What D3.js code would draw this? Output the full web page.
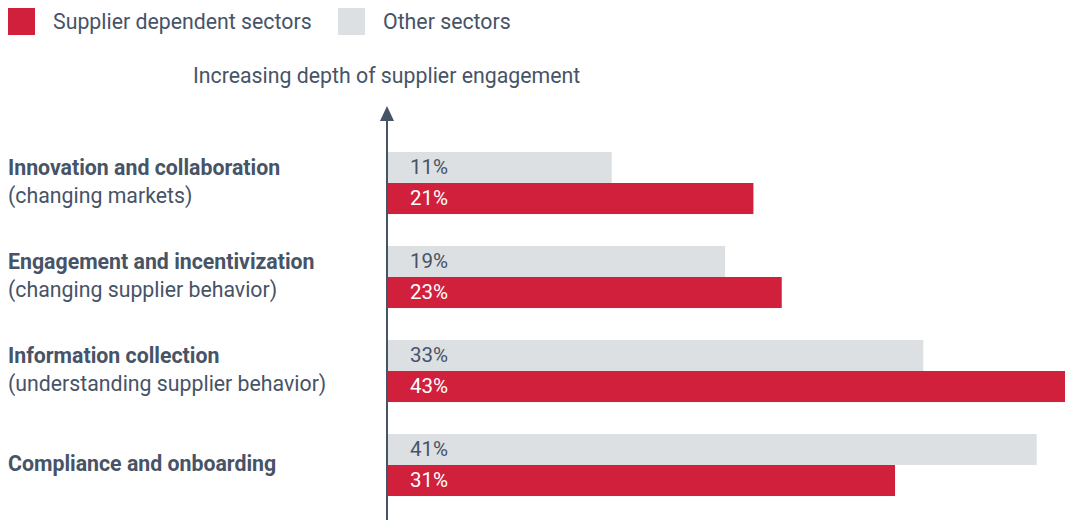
<!doctype html>
<html>
<head>
  <script src="https://d3js.org/d3.v7.min.js"></script>
</head>
<style>
  body {
    margin: 0;
    background: #fff;
  }

  svg text {
    font-family: Roboto, sans-serif;
    fill: #475366;
  }
</style>
<body>
<svg></svg>

<script>
  const categories = [
    "Innovation and collaboration",
    "Engagement and incentivization",
    "Information collection",
    "Compliance and onboarding"
  ];
  const subtitles = [
    "(changing markets)",
    "(changing supplier behavior)",
    "(understanding supplier behavior)",
    ""
  ];
  const seriesNames = ["Other sectors", "Supplier dependent sectors"];
  const otherSectors = [11, 19, 33, 41];
  const supplierDependent = [21, 23, 43, 31];
  const axisTitle = "Increasing depth of supplier engagement";

  const width = 1065, height = 520;
  const axisX = 387;
  const colors = {"Other sectors": "#dce0e3", "Supplier dependent sectors": "#d0203b"};
  const fontSize = "21.3px";

  const svg = d3.select("svg")
    .attr("width", width)
    .attr("height", height);

  const rows = categories.map((c, i) => ({
    category: c,
    subtitle: subtitles[i],
    values: [
      {series: seriesNames[0], value: otherSectors[i]},
      {series: seriesNames[1], value: supplierDependent[i]}
    ]
  }));

  const yScale = d3.scaleBand()
    .domain(categories)
    .range([136, 512])
    .paddingInner(0.34)
    .paddingOuter(0.17);
  const innerScale = d3.scaleBand()
    .domain(seriesNames)
    .range([0, yScale.bandwidth()]);
  const xScale = d3.scaleLinear()
    .domain([-4.8, 43])
    .range([axisX + 1, width]);

  // legend
  const legendItems = [
    {name: seriesNames[1], x: 8},
    {name: seriesNames[0], x: 338}
  ];
  const legend = svg.selectAll("g.legend")
    .data(legendItems)
    .enter().append("g")
    .attr("class", "legend")
    .attr("transform", d => `translate(${d.x}, 8)`);
  legend.append("rect")
    .attr("width", 27)
    .attr("height", 27)
    .attr("fill", d => colors[d.name]);
  legend.append("text")
    .attr("x", 45)
    .attr("y", 21)
    .style("font-size", fontSize)
    .text(d => d.name);

  svg.append("text")
    .attr("x", 193)
    .attr("y", 83)
    .style("font-size", fontSize)
    .text(axisTitle);

  // bars
  const groups = svg.selectAll("g.row")
    .data(rows)
    .enter().append("g")
    .attr("class", "row")
    .attr("transform", d => `translate(0, ${yScale(d.category)})`);

  groups.selectAll("rect")
    .data(d => d.values)
    .enter().append("rect")
    .attr("x", xScale(-4.8))
    .attr("y", d => innerScale(d.series))
    .attr("width", d => xScale(d.value) - xScale(-4.8))
    .attr("height", innerScale.bandwidth())
    .attr("fill", d => colors[d.series]);

  groups.selectAll("text.val")
    .data(d => d.values)
    .enter().append("text")
    .attr("class", "val")
    .attr("x", 410)
    .attr("y", d => innerScale(d.series) + innerScale.bandwidth() / 2 + 7)
    .style("font-size", "20.5px")
    .style("fill", d => d.series === seriesNames[1] ? "#fff" : "#475366")
    .text(d => d.value + "%");

  // category labels
  groups.append("text")
    .attr("x", 8)
    .attr("y", d => d.subtitle ? yScale.bandwidth() / 2 - 8 : yScale.bandwidth() / 2 + 6)
    .style("font-size", fontSize)
    .style("font-weight", "bold")
    .text(d => d.category);
  groups.append("text")
    .attr("x", 8)
    .attr("y", d => yScale.bandwidth() / 2 + 20)
    .style("font-size", fontSize)
    .text(d => d.subtitle);

  // vertical axis with arrow
  svg.append("line")
    .attr("x1", axisX)
    .attr("x2", axisX)
    .attr("y1", 118)
    .attr("y2", height)
    .attr("stroke", "#475366")
    .attr("stroke-width", 2);
  svg.append("path")
    .attr("d", `M${axisX - 7},121 L${axisX},106 L${axisX + 7},121 Z`)
    .attr("fill", "#475366");
</script>
</body>
</html>
